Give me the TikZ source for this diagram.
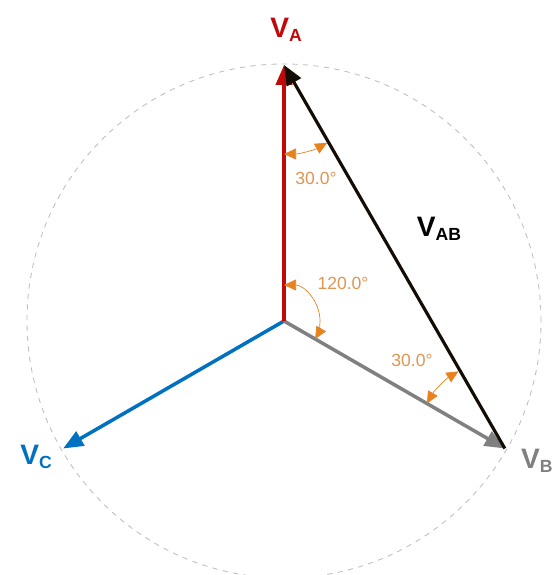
\documentclass[tikz,border=0pt]{standalone}
\usepackage{fontspec}
\setmainfont{Liberation Sans}
\usetikzlibrary{arrows.meta}

\definecolor{phaseA}{RGB}{192,10,10}
\definecolor{phaseB}{RGB}{128,128,128}
\definecolor{phaseC}{RGB}{0,112,192}
\definecolor{angarc}{RGB}{232,130,30}
\definecolor{angtxt}{RGB}{222,150,80}

\newcommand{\phasorlbl}[1]{{\fontsize{16}{18}\selectfont\bfseries V}\raisebox{-0.09cm}{\fontsize{10}{12}\selectfont\bfseries #1}}

\tikzset{
  phasor/.style={line width=2pt,-{Triangle[length=4mm,width=3.2mm]}},
  angle/.style={angarc,line width=0.4pt,{Triangle[length=2.4mm,width=2.2mm]}-{Triangle[length=2.4mm,width=2.2mm]}},
  angle label/.style={text=angtxt,font=\fontsize{10}{12}\selectfont}
}

\begin{document}
\begin{tikzpicture}
\useasboundingbox (-5.68,-5.08) rectangle (5.40,6.42);
\clip (-5.68,-5.08) rectangle (5.40,6.42);
\coordinate (O) at (0,0);
\coordinate (A) at (90:5.12);
\coordinate (B) at (-30:5.1);
\coordinate (C) at (210:5.1);
% circle
\draw[black!25,dashed,line width=0.5pt] (O) circle (5.14);
% phasors
\draw[phasor,phaseC] (O) -- (C);
\draw[phasor,phaseB] (O) -- (B);
\draw[phasor,phaseA,line width=2.3pt] (O) -- (A);
\draw[phasor,black!90!brown,line width=1.8pt] (B) -- (A);
% angles
\draw[angle] ([shift={(270:1.78)}]A) arc (270:299:1.78);
\draw[angle] ([shift={(90:0.72)}]O) arc (90:-30:0.72);
\draw[angle] ([shift={(150:1.8)}]B) arc (150:121:1.8);
\node[angle label] (a1) at (0.64,2.86) {30.0°};
\node[angle label] (a2) at (1.18,0.76) {120.0°};
\node[angle label] (a3) at (2.56,-0.78) {30.0°};
% labels
\node[phaseB,anchor=east,inner sep=0pt] (lB) at (5.38,-2.8) {\phasorlbl{B}};
\node[phaseA] (lA) at (0.04,5.82) {\phasorlbl{A}};
\node[phaseC] (lC) at (-4.96,-2.72) {\phasorlbl{C}};
\node[black] (lAB) at (3.1,1.84) {\phasorlbl{AB}};
\end{tikzpicture}
\end{document}
